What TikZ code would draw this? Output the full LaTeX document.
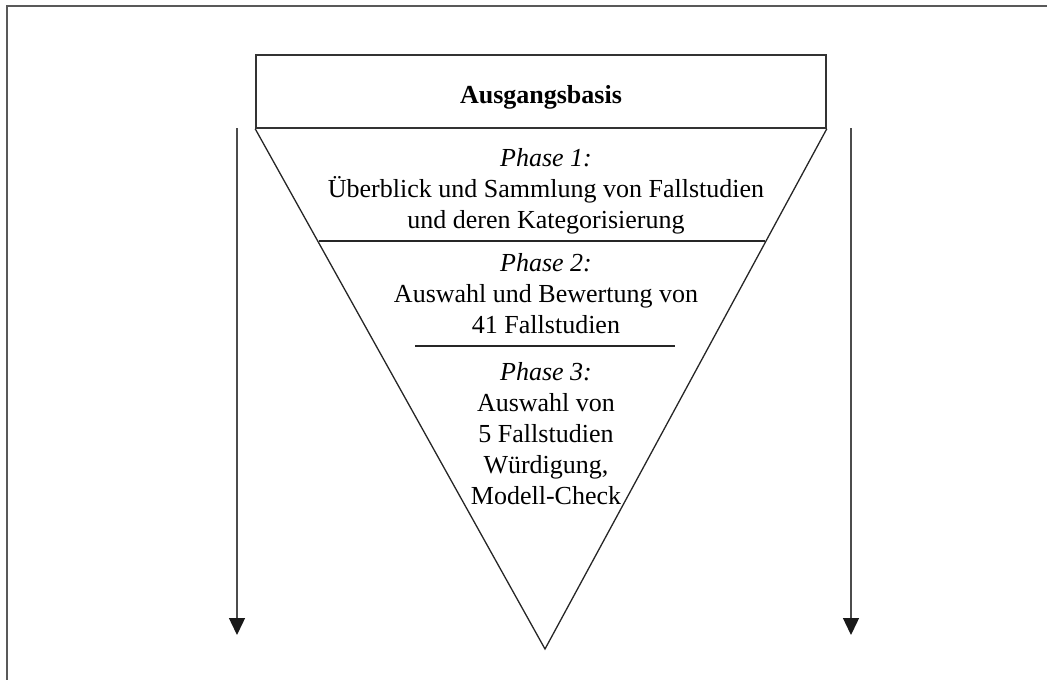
\documentclass[tikz,border=0pt]{standalone}
\usepackage{fontspec}
\setmainfont{Liberation Serif}
\usetikzlibrary{arrows.meta}
\begin{document}
\begin{tikzpicture}[x=1pt,y=-1pt,
  frame/.style={line width=2pt,draw=black!65},
  boxline/.style={line width=1.6pt,draw=black!80},
  edge/.style={line width=1.3pt,draw=black!85},
  flow/.style={line width=1.4pt,draw=black!70,
    -{Triangle[width=16pt,length=17pt,color=black!90]}},
  txt/.style={align=center,font=\fontsize{26}{31}\selectfont,inner sep=0pt}
]
\useasboundingbox (0,0) rectangle (1047,680);
% frame: top and left edge only
\draw[frame] (1047,6) -- (7,6) -- (7,680);

% base box
\node[boxline,draw,minimum width=570pt,minimum height=73pt,inner sep=0pt] (basis) at (541,91.5) {};
\node[font=\fontsize{26}{31}\selectfont\bfseries,inner sep=0pt] (basislabel) at (541,97) {Ausgangsbasis};

% funnel
\coordinate (apex) at (545,649);
\draw[edge] (basis.south west) -- (apex) -- (basis.south east);

% dividers
\coordinate (d1l) at (318.7,241);
\coordinate (d1r) at (765,241);
\coordinate (d2l) at (415,346);
\coordinate (d2r) at (675,346);
\draw[edge] (d1l) -- (d1r);
\draw[edge] (d2l) -- (d2r);

% phase texts
\node[txt] (p1) at (546,191) {\textit{Phase 1:}\\Überblick und Sammlung von Fallstudien\\und deren Kategorisierung};
\node[txt] (p2) at (546,294) {\textit{Phase 2:}\\Auswahl und Bewertung von\\41 Fallstudien};
\node[txt] (p3) at (546,434) {\textit{Phase 3:}\\Auswahl von\\5 Fallstudien\\Würdigung,\\Modell-Check};

% side arrows
\coordinate (la) at (237,128);
\coordinate (lb) at (237,635);
\coordinate (ra) at (851,128);
\coordinate (rb) at (851,635);
\draw[flow] (la) -- (lb);
\draw[flow] (ra) -- (rb);
\end{tikzpicture}
\end{document}
